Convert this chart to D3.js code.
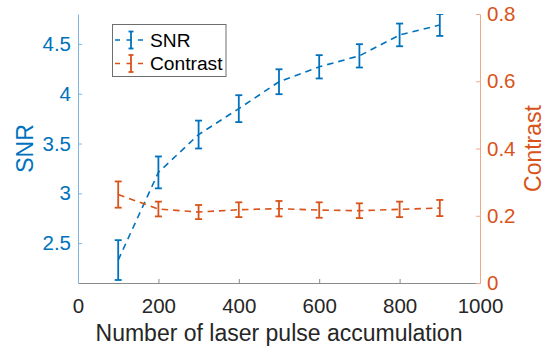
<!DOCTYPE html>
<html><head><meta charset="utf-8">
<script src="https://cdn.jsdelivr.net/npm/d3@7"></script>
<style>
html,body{margin:0;padding:0;background:#fff;}
svg{display:block;font-family:"Liberation Sans",Arial,Helvetica,sans-serif;}
</style></head>
<body>
<svg id="chart" width="546" height="348"></svg>
<script>
const pulses = [100,200,300,400,500,600,700,800,900];
const snrMean = [2.33,3.21,3.59,3.85,4.12,4.27,4.38,4.59,4.69];
const snrErr = [0.20,0.16,0.14,0.135,0.125,0.117,0.117,0.114,0.11];
const contrastMean = [0.263,0.220,0.211,0.218,0.221,0.217,0.215,0.219,0.223];
const contrastErr = [0.039,0.022,0.021,0.022,0.023,0.023,0.022,0.023,0.024];
const xTicks = [0,200,400,600,800,1000];
const snrTicks = [2.5,3,3.5,4,4.5];
const contrastTicks = [0,0.2,0.4,0.6,0.8];
const seriesNames = ["SNR","Contrast"];

const BLUE = "#0072BD", ORANGE = "#D95319";
const L = 78, R = 480, T = 14, B = 283;
const svg = d3.select("#chart");

const x = d3.scaleLinear().domain([0,1000]).range([L,R]);
const ySNR = d3.scaleLinear().domain([2.1,4.8]).range([B,T]);
const yC = d3.scaleLinear().domain([0,0.8]).range([B,T]);

svg.append("defs").append("clipPath").attr("id","plotclip")
  .append("rect").attr("x",L).attr("y",T).attr("width",R-L).attr("height",B-T);

// axes
const fmt = d => String(d);
const gx = svg.append("g").attr("transform",`translate(0,${B})`)
  .call(d3.axisBottom(x).tickValues(xTicks).tickFormat(fmt).tickSize(-4).tickSizeOuter(0).tickPadding(15));
gx.select(".domain").attr("stroke","#8a8a8a");
gx.selectAll(".tick line").attr("stroke","#8a8a8a");
gx.selectAll(".tick text").attr("fill","#262626").style("font-size","20.5px");

const gl = svg.append("g").attr("transform",`translate(${L},0)`)
  .call(d3.axisLeft(ySNR).tickValues(snrTicks).tickFormat(fmt).tickSize(-4).tickSizeOuter(0).tickPadding(7));
gl.select(".domain").attr("stroke","#7fb5e0");
gl.selectAll(".tick line").attr("stroke","#7fb5e0");
gl.selectAll(".tick text").attr("fill",BLUE).style("font-size","20.5px");

const gr = svg.append("g").attr("transform",`translate(${R},0)`)
  .call(d3.axisRight(yC).tickValues(contrastTicks).tickFormat(fmt).tickSize(-4).tickSizeOuter(0).tickPadding(7));
gr.select(".domain").attr("stroke","#f2a785");
gr.selectAll(".tick line").attr("stroke","#f2a785");
gr.selectAll(".tick text").attr("fill",ORANGE).style("font-size","20.5px");

svg.selectAll(".domain").attr("stroke-width",1);
svg.selectAll("g").attr("font-family",null).attr("font-size",null);

// labels
svg.append("text").attr("x",(L+R)/2).attr("y",341).attr("text-anchor","middle")
  .attr("fill","#262626").style("font-size","23px").text("Number of laser pulse accumulation");
svg.append("text").attr("transform",`translate(33,${(T+B)/2}) rotate(-90)`).attr("text-anchor","middle")
  .attr("fill",BLUE).style("font-size","23px").text("SNR");
svg.append("text").attr("transform",`translate(541,${(T+B)/2}) rotate(-90)`).attr("text-anchor","middle")
  .attr("fill",ORANGE).style("font-size","23px").text("Contrast");

// series
function drawSeries(mean, err, y, color){
  const g = svg.append("g").attr("clip-path","url(#plotclip)");
  const line = d3.line().x((d,i)=>x(pulses[i])).y(d=>y(d));
  g.append("path").datum(mean).attr("d",line).attr("fill","none")
    .attr("stroke",color).attr("stroke-width",1.6).attr("stroke-dasharray","6.5,5");
  const cap = 3.5;
  const eb = g.selectAll(".eb").data(mean).enter().append("g");
  eb.append("line").attr("x1",(d,i)=>x(pulses[i])).attr("x2",(d,i)=>x(pulses[i]))
    .attr("y1",(d,i)=>y(d-err[i])).attr("y2",(d,i)=>y(d+err[i]))
    .attr("stroke",color).attr("stroke-width",1.8);
  eb.append("line").attr("x1",(d,i)=>x(pulses[i])-cap).attr("x2",(d,i)=>x(pulses[i])+cap)
    .attr("y1",(d,i)=>y(d+err[i])).attr("y2",(d,i)=>y(d+err[i]))
    .attr("stroke",color).attr("stroke-width",1.8);
  eb.append("line").attr("x1",(d,i)=>x(pulses[i])-cap).attr("x2",(d,i)=>x(pulses[i])+cap)
    .attr("y1",(d,i)=>y(d-err[i])).attr("y2",(d,i)=>y(d-err[i]))
    .attr("stroke",color).attr("stroke-width",1.8);
}
drawSeries(snrMean, snrErr, ySNR, BLUE);
drawSeries(contrastMean, contrastErr, yC, ORANGE);

// legend
const lg = svg.append("g");
lg.append("rect").attr("x",112.5).attr("y",24.5).attr("width",113.5).attr("height",52)
  .attr("fill","#fff").attr("stroke","#6e6e6e").attr("stroke-width",1);
const legColors = [BLUE, ORANGE];
seriesNames.forEach((name,k)=>{
  const cy = 40 + k*23.5;
  lg.append("line").attr("x1",114).attr("x2",148).attr("y1",cy).attr("y2",cy)
    .attr("stroke",legColors[k]).attr("stroke-width",1.6).attr("stroke-dasharray","5,6.5").attr("stroke-dashoffset",-1);
  lg.append("line").attr("x1",131).attr("x2",131).attr("y1",cy-8.5).attr("y2",cy+8.5)
    .attr("stroke",legColors[k]).attr("stroke-width",1.8);
  [cy-8.5, cy+8.5].forEach(yy=>lg.append("line").attr("x1",128.5).attr("x2",133.5).attr("y1",yy).attr("y2",yy)
    .attr("stroke",legColors[k]).attr("stroke-width",1.8));
  lg.append("text").attr("x",150).attr("y",cy).attr("dy","0.36em").attr("fill","#000")
    .style("font-size","19.2px").text(name);
});
</script>
</body></html>
